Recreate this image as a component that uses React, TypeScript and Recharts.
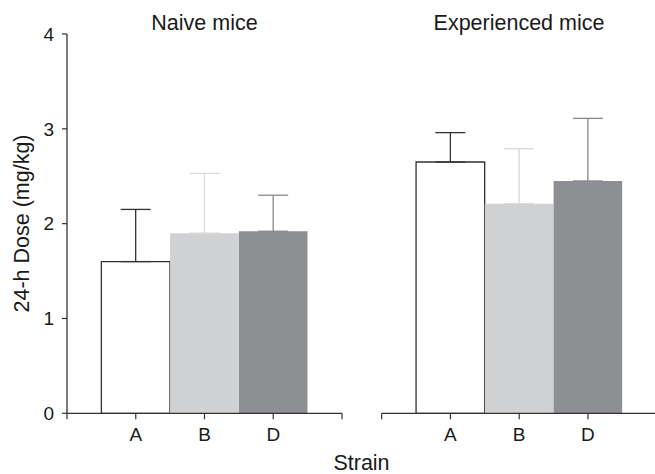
import React from 'react';
import { BarChart, Bar, XAxis, YAxis, ErrorBar, Cell } from 'recharts';

const categories = ['A', 'B', 'D'];
const naiveMeans = [1.6, 1.9, 1.92];
const naiveErr = [0.55, 0.63, 0.38];
const expMeans = [2.65, 2.21, 2.45];
const expErr = [0.31, 0.58, 0.66];
const yTicks = [0, 1, 2, 3, 4];
const xTicks = [0, 1, 2, 3, 4];

const fills = ['#ffffff', '#d0d1d3', '#8e8f93'];
const strokes = ['#333333', 'none', 'none'];
const errColors = ['#333333', '#d9d9d9', '#87888c'];
const errKeys = ['errA', 'errB', 'errD'];

const FONT = '"Liberation Sans", Arial, Helvetica, sans-serif';
const AXIS = '#333333';
const TEXT = '#1a1a1a';
const TICK_FS = 19;

function buildRows(means: number[], errs: number[]) {
  return categories.map((c, i) => {
    const row: any = { pos: i + 1, label: c, mean: means[i] };
    errKeys.forEach((k, j) => {
      row[k] = j === i ? [0, errs[i]] : undefined;
    });
    return row;
  });
}

const naiveRows = buildRows(naiveMeans, naiveErr);
const expRows = buildRows(expMeans, expErr);

const fmt = (v: number) => categories[v - 1] ?? '';

const XTick = (props: any) => {
  const { x, y, payload } = props;
  return (
    <text
      x={x}
      y={y}
      dy="0.72em"
      textAnchor="middle"
      fontSize={TICK_FS}
      fontFamily={FONT}
      fill={TEXT}
    >
      {fmt(payload.value)}
    </text>
  );
};

const YTick = (props: any) => {
  const { x, y, payload } = props;
  return (
    <text
      x={x}
      y={y}
      dy="0.36em"
      textAnchor="end"
      fontSize={TICK_FS}
      fontFamily={FONT}
      fill={TEXT}
    >
      {payload.value}
    </text>
  );
};

function Panel({ rows, showY, width, margin }: any) {
  return (
    <BarChart
      width={width}
      height={474}
      data={rows}
      margin={margin}
      barCategoryGap={0}
      barGap={0}
    >
      <XAxis
        type="number"
        dataKey="pos"
        domain={[0, 4]}
        ticks={xTicks}
        interval={0}
        height={60.7}
        tickSize={6}
        tickMargin={8}
        axisLine={{ stroke: AXIS, strokeWidth: 1.3 }}
        tickLine={{ stroke: AXIS, strokeWidth: 1.2 }}
        tick={<XTick />}
        allowDataOverflow
      />
      <YAxis
        type="number"
        domain={[0, 4]}
        ticks={yTicks}
        hide={!showY}
        width={67}
        tickSize={5}
        tickMargin={8}
        axisLine={{ stroke: AXIS, strokeWidth: 1.3 }}
        tickLine={{ stroke: AXIS, strokeWidth: 1.2 }}
        tick={<YTick />}
      />
      <Bar dataKey="mean" isAnimationActive={false} barSize={68.6}>
        {rows.map((r: any, i: number) => (
          <Cell key={i} fill={fills[i]} stroke={strokes[i]} strokeWidth={1.3} />
        ))}
        {errKeys.map((k, j) => (
          <ErrorBar
            key={k}
            dataKey={k}
            direction="y"
            width={15}
            stroke={errColors[j]}
            strokeWidth={1.3}
            isAnimationActive={false}
          />
        ))}
      </Bar>
    </BarChart>
  );
}

export default function App() {
  return (
    <div
      style={{
        position: 'absolute',
        left: 0,
        top: 0,
        width: 655,
        height: 474,
        overflow: 'hidden',
        background: '#fff',
      }}
    >
      <div style={{ position: 'absolute', left: 0, top: 0 }}>
        <Panel
          rows={naiveRows}
          showY
          width={360}
          margin={{ top: 34, right: 18, bottom: 0, left: 0 }}
        />
      </div>
      <div style={{ position: 'absolute', left: 360, top: 0 }}>
        <Panel
          rows={expRows}
          showY={false}
          width={300}
          margin={{ top: 34, right: 3.3, bottom: 0, left: 21.7 }}
        />
      </div>
      <svg
        width={655}
        height={474}
        style={{ position: 'absolute', left: 0, top: 0, pointerEvents: 'none' }}
      >
        <g fontFamily={FONT} fill={TEXT} fontSize={21.5}>
          <text x={204.5} y={30} textAnchor="middle">Naive mice</text>
          <text x={519} y={30} textAnchor="middle">Experienced mice</text>
          <text x={361.5} y={470} textAnchor="middle">Strain</text>
          <text
            x={22}
            y={223.5}
            textAnchor="middle"
            dominantBaseline="central"
            transform="rotate(-90 22 223.5)"
          >
            24-h Dose (mg/kg)
          </text>
        </g>
      </svg>
    </div>
  );
}
